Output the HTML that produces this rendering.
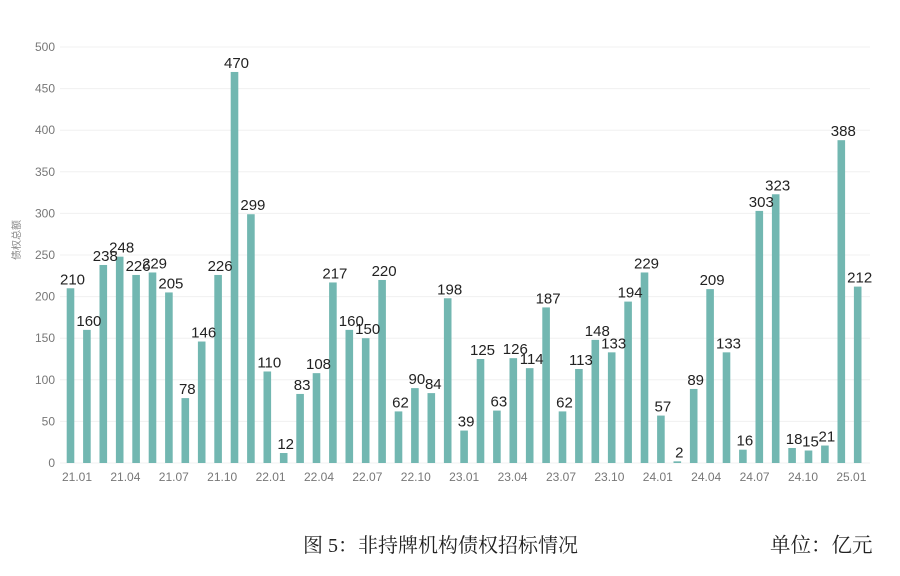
<!DOCTYPE html>
<html><head><meta charset="utf-8"><style>
body{margin:0;background:#fff;}
</style></head><body>
<svg width="900" height="571" xmlns="http://www.w3.org/2000/svg" font-family="Liberation Sans, DejaVu Sans, sans-serif">
<g id="grid" stroke="#f0f0f0" stroke-width="1"></g>
<g id="yt" fill="#777" font-size="12" text-anchor="end"></g>
<g id="bars" fill="#72b7b1"></g>
<g id="vl" fill="#222" font-size="15" text-anchor="middle"></g>
<g id="xt" fill="#777" font-size="12" text-anchor="middle"></g>
<text x="20" y="240" transform="rotate(-90 20 240)" font-size="10" fill="#888" text-anchor="middle" font-family="Liberation Sans, Noto Sans CJK SC, sans-serif">债权总额</text>
<text x="303" y="552" font-size="20" fill="#222" font-family="Liberation Serif, Noto Serif CJK SC, serif">图 5：非持牌机构债权招标情况</text>
<text x="770" y="552" font-size="20.5" fill="#222" font-family="Liberation Serif, Noto Serif CJK SC, serif">单位：亿元</text>
</svg>
<script>
var v=[210,160,238,248,226,229,205,78,146,226,470,299,110,12,83,108,217,160,150,220,62,90,84,198,39,125,63,126,114,187,62,113,148,133,194,229,57,2,89,209,133,16,303,323,18,15,21,388,212];
var NS="http://www.w3.org/2000/svg";
function el(p,t,a,txt){var e=document.createElementNS(NS,t);for(var k in a)e.setAttribute(k,a[k]);if(txt!==undefined)e.textContent=txt;document.getElementById(p).appendChild(e);}
var y0=463,sc=416/500;
for(var i=0;i<=10;i++){var y=y0-i*50*sc;el("grid","line",{x1:60,x2:870,y1:y,y2:y});el("yt","text",{x:55,y:y+4},String(i*50));}
var labs=["21.01","21.04","21.07","21.10","22.01","22.04","22.07","22.10","23.01","23.04","23.07","23.10","24.01","24.04","24.07","24.10","25.01"];
for(var i=0;i<v.length;i++){var cx=70.5+i*16.4,h=v[i]*sc;
el("bars","rect",{x:cx-3.8,y:y0-h,width:7.6,height:h});
el("vl","text",{x:cx+2,y:y0-h-4},String(v[i]));}
for(var j=0;j<labs.length;j++){el("xt","text",{x:77+j*48.4,y:481},labs[j]);}
</script>
</body></html>
